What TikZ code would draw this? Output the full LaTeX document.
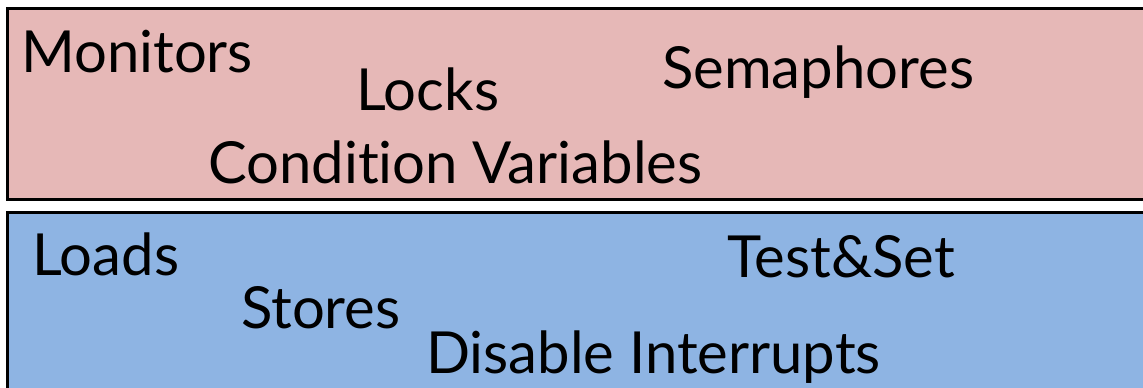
\documentclass[tikz,border=0pt]{standalone}
\usepackage{fontspec}
\setmainfont[Ligatures={NoCommon}]{Lato}
\definecolor{toppink}{HTML}{E6B8B7}
\definecolor{botblue}{HTML}{8EB4E3}
\begin{document}
\begin{tikzpicture}[x=1pt,y=-1pt,
  layer/.style={draw=black,line width=3pt},
  lbl/.style={anchor=base west,inner sep=0pt,font=\fontsize{58}{62}\selectfont}]
\useasboundingbox (0,0) rectangle (1143,388);
\begin{scope}
\clip (0,0) rectangle (1143,388);
\filldraw[layer,fill=toppink] (7.5,8.5) rectangle (1160,199);
\filldraw[layer,fill=botblue] (7.5,212) rectangle (1160,400);
\end{scope}
\node[lbl] (mon) at (21,72) {Monitors};
\node[lbl] (lck) at (356,110) {Locks};
\node[lbl] (sem) at (662,88) {Semaphores};
\node[lbl] (cv) at (208,183) {Condition Variables};
\node[lbl] (ld) at (32,275) {Loads};
\node[lbl] (st) at (241,328) {Stores};
\node[lbl] (ts) at (727,277) {Test\&Set};
\node[lbl] (di) at (426,373) {Disable Interrupts};
\end{tikzpicture}
\end{document}
